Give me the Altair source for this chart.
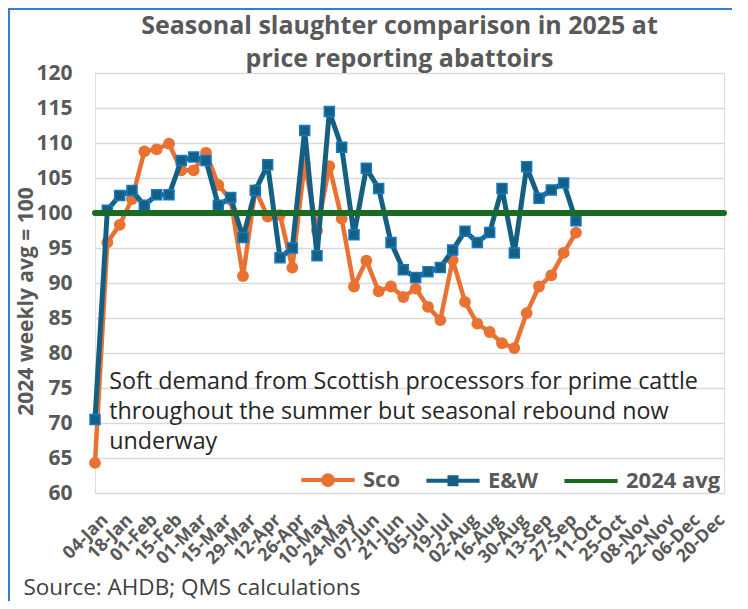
import json
import altair as alt
import pandas as pd

# ---------------- data ----------------
tick_labels = ["04-Jan", "18-Jan", "01-Feb", "15-Feb", "01-Mar", "15-Mar", "29-Mar",
               "12-Apr", "26-Apr", "10-May", "24-May", "07-Jun", "21-Jun", "05-Jul",
               "19-Jul", "02-Aug", "16-Aug", "30-Aug", "13-Sep", "27-Sep", "11-Oct",
               "25-Oct", "08-Nov", "22-Nov", "06-Dec", "20-Dec"]
n_weeks = 52
weeks = list(range(40))
sco = [64.3, 95.8, 98.3, 102.0, 108.8, 109.1, 109.9, 106.1, 106.1, 108.6,
       104.0, 101.9, 91.0, 103.3, 99.5, 99.7, 92.2, 107.1, 97.5, 106.7,
       99.2, 89.5, 93.2, 88.8, 89.5, 88.0, 89.2, 86.6, 84.7, 93.3,
       87.3, 84.2, 83.0, 81.4, 80.7, 85.7, 89.5, 91.1, 94.3, 97.2]
ew = [70.5, 100.4, 102.5, 103.2, 101.1, 102.6, 102.6, 107.5, 108.0, 107.5,
      101.1, 102.2, 96.5, 103.2, 106.9, 93.6, 95.0, 111.8, 93.9, 114.5,
      109.4, 96.9, 106.4, 103.5, 95.8, 91.9, 90.8, 91.6, 92.2, 94.7,
      97.4, 95.8, 97.2, 103.5, 94.3, 106.6, 102.1, 103.3, 104.3, 98.9]
avg_weeks = [0, n_weeks - 1]
avg_values = [100, 100]
series_names = ["Sco", "E&W", "2024 avg"]
series_colors = ["#E97132", "#156082", "#196B24"]
title_lines = ["Seasonal slaughter comparison in 2025 at", "price reporting abattoirs"]
y_title = "2024 weekly avg = 100"
source_text = "Source: AHDB; QMS calculations"
note_text = ("Soft demand from Scottish processors for prime cattle\n"
             "throughout the summer but seasonal rebound now\n"
             "underway")
note_week = [1.15]      # anchor of the annotation, in data units
note_value = [77.4]

sco_df = pd.DataFrame({"week": weeks, "value": sco, "series": series_names[0]})
ew_df = pd.DataFrame({"week": weeks, "value": ew, "series": series_names[1]})
avg_df = pd.DataFrame({"week": avg_weeks, "value": avg_values, "series": series_names[2]})
key_df = pd.DataFrame({"week": [0, 0, 0], "value": [100, 100, 100], "series": series_names})
note_df = pd.DataFrame({"week": note_week, "value": note_value, "t": [note_text]})

FONT = "Open Sans"
GREY = "#595959"

x_axis = alt.Axis(
    values=list(range(0, n_weeks, 2)),
    labelExpr=json.dumps(tick_labels) + "[round(datum.value / 2)]",
    labelAngle=315, labelAlign="right", labelBaseline="middle",
    labelFont=FONT, labelFontSize=18, labelFontWeight="bold", labelColor=GREY,
    labelPadding=24, labelOffset=10, labelOverlap=False, labelBound=False,
    ticks=False, domain=False, grid=False,
    title=source_text, titleFont=FONT, titleFontSize=22.5, titleFontWeight="normal",
    titleColor="#404040", titleAnchor="start", titleAlign="left",
    titleBaseline="alphabetic", titleX=-72, titleY=101,
)
y_axis = alt.Axis(
    values=list(range(60, 121, 5)),
    labelFont=FONT, labelFontSize=21, labelFontWeight="bold", labelColor=GREY,
    labelPadding=23, labelOverlap=False, ticks=False, tickSize=0, domain=False,
    grid=True, gridColor="#D9D9D9", gridWidth=1.5,
    title=y_title, titleFont=FONT, titleFontSize=21, titleFontWeight="bold",
    titleColor=GREY, titleAngle=270, titleBaseline="middle", titleAlign="center",
    titleX=-69, titleY=228,
)
x_enc = alt.X("week:Q", scale=alt.Scale(domain=[0, n_weeks - 1], nice=False, zero=False),
              axis=x_axis)
y_enc = alt.Y("value:Q", scale=alt.Scale(domain=[60, 120], nice=False, zero=False),
              axis=y_axis)

# legend key glyphs: line with marker (drawn as strokes only)
P_SCO = ("M-3.8,0H3.8M-0.7,0A0.7,0.7,0,1,1,0.7,0A0.7,0.7,0,1,1,-0.7,0"
         "M-0.3,0A0.3,0.3,0,1,1,0.3,0A0.3,0.3,0,1,1,-0.3,0")
P_EW = "M-3.8,0H3.8M-0.5,-0.5H0.5V0.5H-0.5Z"
P_AVG = "M-3.8,0H3.8"
legend = alt.Legend(
    title=None, orient="none", legendX=222, legendY=396, direction="horizontal",
    symbolSize=196, symbolStrokeWidth=4, symbolOpacity=1,
    labelOffset=24, columnPadding=17, padding=0,
    labelFont=FONT, labelFontSize=22, labelFontWeight="bold", labelColor=GREY,
)
color_scale = alt.Scale(domain=series_names, range=series_colors)
shape_scale = alt.Scale(domain=series_names, range=[P_SCO, P_EW, P_AVG])

frame = alt.Chart(pd.DataFrame({"k": [0]})).mark_rect(
    fill="transparent", stroke="#2F80D0", strokeWidth=2
).encode(x=alt.value(-86), x2=alt.value(700), y=alt.value(-64), y2=alt.value(600))

sco_line = alt.Chart(sco_df).mark_line(color=series_colors[0], strokeWidth=4.5,
                                       strokeJoin="round").encode(x=x_enc, y=y_enc)
sco_pts = alt.Chart(sco_df).mark_point(shape="circle", filled=True, size=140, opacity=1,
                                       color=series_colors[0]).encode(x=x_enc, y=y_enc)
ew_line = alt.Chart(ew_df).mark_line(color=series_colors[1], strokeWidth=5,
                                     strokeJoin="round").encode(x=x_enc, y=y_enc)
ew_pts = alt.Chart(ew_df).mark_point(shape="square", filled=True, size=100, opacity=1,
                                     fill=series_colors[1], stroke="#1478C8",
                                     strokeWidth=1.5).encode(x=x_enc, y=y_enc)
avg_line = alt.Chart(avg_df).mark_line(strokeWidth=6, strokeCap="round",
                                       color=series_colors[2]).encode(x=x_enc, y=y_enc)
key = alt.Chart(key_df).mark_point(filled=False, opacity=0).encode(
    x=x_enc, y=y_enc,
    color=alt.Color("series:N", scale=color_scale, legend=legend),
    shape=alt.Shape("series:N", scale=shape_scale, legend=legend),
)
note = alt.Chart(note_df).mark_text(
    align="left", baseline="top", lineBreak="\n", lineHeight=30,
    font=FONT, fontSize=23.3, color="#262626",
).encode(x=x_enc, y=y_enc, text="t:N")

chart = alt.layer(frame, sco_line, sco_pts, ew_line, ew_pts, avg_line, key, note).properties(
    width=629, height=420,
    padding={"left": 87, "top": 65, "right": 8, "bottom": 108},
    autosize="none",
    title=alt.TitleParams(
        title_lines, font=FONT, fontSize=25, fontWeight="bold", color=GREY,
        anchor="middle", frame="group", dx=-10, dy=56, offset=-8, lineHeight=33,
        baseline="top",
    ),
).configure_view(stroke=None).configure(background="white").configure_axis(
    labelOverlap=False
)

chart.save("out.html", embed_options={"renderer": "svg", "actions": False})
